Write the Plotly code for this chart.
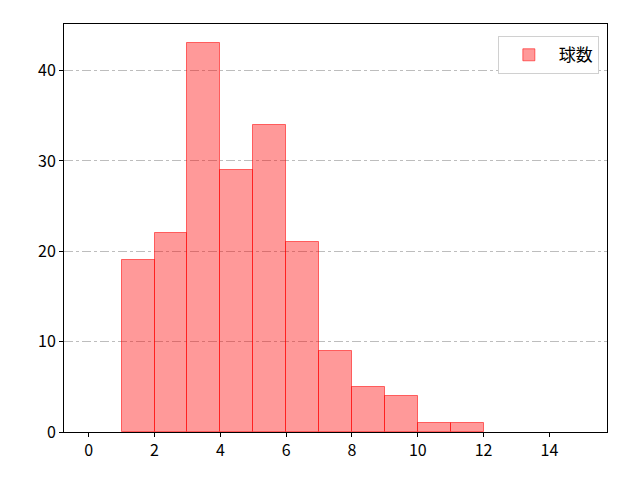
import plotly.graph_objects as go

# ── Data ──────────────────────────────────────────────
bin_left = [1, 2, 3, 4, 5, 6, 7, 8, 9, 10, 11]
counts   = [19, 22, 43, 29, 34, 21, 9, 5, 4, 1, 1]
x_ticks  = [0, 2, 4, 6, 8, 10, 12, 14]
y_ticks  = [0, 10, 20, 30, 40]

centers = [b + 0.5 for b in bin_left]

fig = go.Figure()
fig.add_trace(go.Bar(
    x=centers, y=counts, width=1,
    marker=dict(color="rgba(255,0,0,0.4)",
                line=dict(color="rgba(255,0,0,0.55)", width=1)),
    name="球数",
    showlegend=True,
))

axis_style = dict(
    showline=True, linecolor="black", linewidth=1, mirror=True,
    ticks="outside", ticklen=4, tickcolor="black",
    zeroline=False,
    tickfont=dict(size=16, color="black"),
)

# page body adds ~8px offset, so the figure is a bit smaller than the window
fig.update_layout(
    width=632, height=472,
    paper_bgcolor="white", plot_bgcolor="white",
    font=dict(family="Noto Sans CJK JP", color="black"),
    margin=dict(l=56, r=33, t=16, b=48),
    bargap=0,
    legend=dict(
        x=0.985, y=0.97, xanchor="right", yanchor="top",
        bgcolor="white", bordercolor="#d0d0d0", borderwidth=1,
        font=dict(size=17), itemwidth=50,
    ),
)
fig.update_xaxes(**axis_style, range=[-0.75, 15.75], tickvals=x_ticks, showgrid=False)
fig.update_yaxes(**axis_style, range=[0, 45.15], tickvals=y_ticks,
                 showgrid=True, gridcolor="#bdbdbd", gridwidth=0.8, griddash="dashdot")

fig.write_html("out.html")
